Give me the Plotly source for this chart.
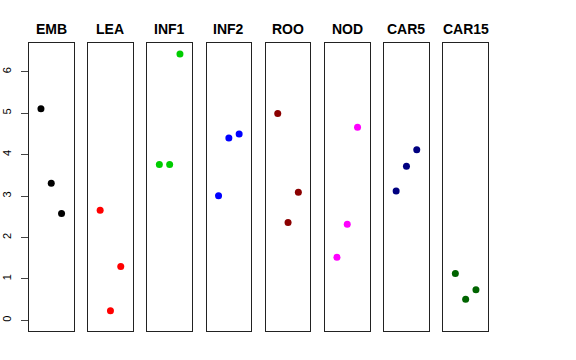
import plotly.graph_objects as go

categories = ["EMB", "LEA", "INF1", "INF2", "ROO", "NOD", "CAR5", "CAR15"]
colors = ["#000000", "#FF0000", "#00CD00", "#0000FF", "#8B0000", "#FF00FF", "#000080", "#006400"]
positions = [1, 2, 3]
emb = [5.11, 3.31, 2.58]
lea = [2.66, 0.23, 1.30]
inf1 = [3.76, 3.76, 6.43]
inf2 = [3.01, 4.40, 4.50]
roo = [4.99, 2.36, 3.09]
nod = [1.52, 2.32, 4.66]
car5 = [3.12, 3.72, 4.12]
car15 = [1.13, 0.51, 0.74]
series = [emb, lea, inf1, inf2, roo, nod, car5, car15]
y_ticks = [0, 1, 2, 3, 4, 5, 6]

W, H = 576, 360
fig = go.Figure()
left0, pitch, pw = 29.0, 59.2, 44.5
top, bottom = 43.3, 331.0
ymax = max(max(s) for s in series)
pad = ymax * 0.04
yrange = [0 - pad, ymax + pad]

layout = dict(width=W, height=H, margin=dict(l=0, r=0, t=0, b=0, autoexpand=False),
              plot_bgcolor="white", paper_bgcolor="white", showlegend=False,
              font=dict(family="Liberation Sans, Arial, sans-serif", color="black"))
annotations = []
for i, (cat, col, vals) in enumerate(zip(categories, colors, series)):
    idx = "" if i == 0 else str(i + 1)
    x0 = (left0 + i * pitch) / W
    x1 = (left0 + i * pitch + pw) / W
    fig.add_trace(go.Scatter(x=positions, y=vals, mode="markers",
                             marker=dict(color=col, size=7),
                             xaxis="x" + idx, yaxis="y" + idx))
    layout["xaxis" + idx] = dict(domain=[x0, x1], range=[-0.16, 4.16], showgrid=False,
                                 zeroline=False, showticklabels=False, ticks="",
                                 showline=True, linecolor="#222", linewidth=1, mirror=True,
                                 anchor="y" + idx, automargin=False)
    yax = dict(domain=[1 - bottom / H, 1 - top / H], range=yrange, showgrid=False,
               zeroline=False, showline=True, linecolor="#222", linewidth=1, mirror=True,
               anchor="x" + idx, automargin=False)
    if i == 0:
        yax.update(tickvals=y_ticks, ticktext=[str(t) for t in y_ticks], ticks="outside",
                   ticklen=7, tickcolor="#444", tickangle=-90, ticklabelstandoff=6,
                   tickfont=dict(size=11, color="black"))
    else:
        yax.update(showticklabels=False, ticks="")
    layout["yaxis" + idx] = yax
    annotations.append(dict(text="<b>" + cat + "</b>", x=(x0 + x1) / 2, y=1 - 29 / H,
                            xref="paper", yref="paper", showarrow=False,
                            xanchor="center", yanchor="middle",
                            font=dict(size=14, color="black")))
layout["annotations"] = annotations
fig.update_layout(**layout)
fig.write_html("out.html", config={"displayModeBar": False},
               post_script="document.body.style.margin='0';document.body.style.overflow='hidden';")
